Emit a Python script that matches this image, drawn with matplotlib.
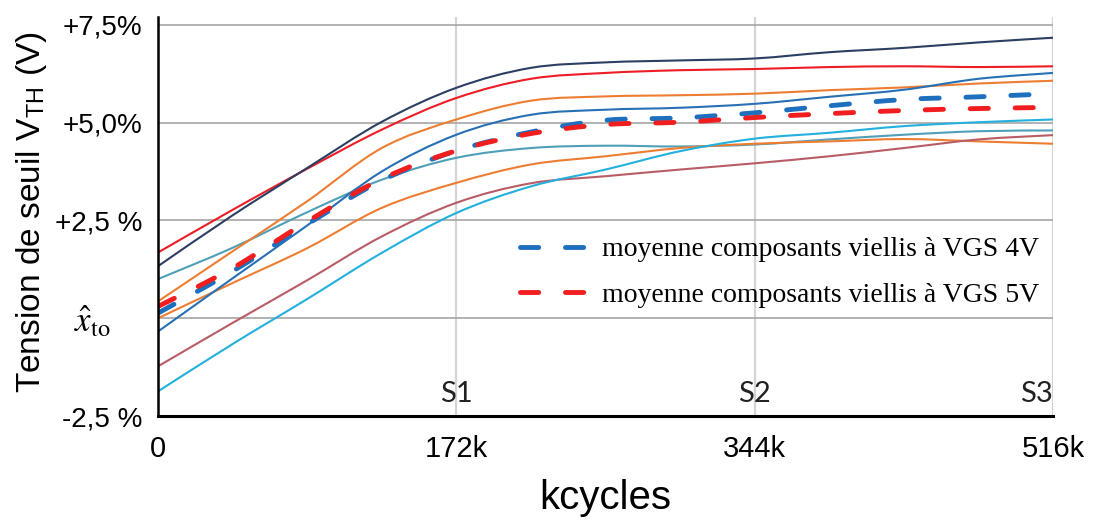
import matplotlib
matplotlib.use("Agg")
import matplotlib.pyplot as plt
from matplotlib.path import Path
from matplotlib.patches import PathPatch
from matplotlib.lines import Line2D
import numpy as np

plt.rcParams['mathtext.fontset'] = 'stix'

# kcycles (lus tous les 43k)
kcycles = [0, 43, 86, 129, 172, 215, 258, 301, 344, 387, 430, 473, 516]

# composants individuels (%)
c_navy = [1.33, 2.63, 3.84, 5.02, 5.89, 6.40, 6.54, 6.59, 6.64, 6.80, 6.91, 7.05, 7.17]
c_red = [1.68, 2.77, 3.82, 4.82, 5.63, 6.12, 6.27, 6.34, 6.37, 6.42, 6.44, 6.42, 6.44]
c_orange1 = [0.43, 1.71, 2.99, 4.35, 5.08, 5.56, 5.67, 5.70, 5.74, 5.83, 5.90, 6.00, 6.07]
c_blue = [-0.34, 1.02, 2.37, 3.75, 4.69, 5.20, 5.33, 5.38, 5.48, 5.66, 5.84, 6.12, 6.27]
c_teal = [1.00, 1.80, 2.71, 3.54, 4.10, 4.35, 4.41, 4.39, 4.44, 4.57, 4.69, 4.78, 4.80]
c_orange2 = [0.00, 0.90, 1.79, 2.82, 3.46, 3.93, 4.14, 4.35, 4.46, 4.52, 4.58, 4.52, 4.46]
c_brown = [-1.23, -0.12, 0.97, 2.09, 2.95, 3.45, 3.63, 3.80, 3.96, 4.14, 4.35, 4.57, 4.68]
c_cyan = [-1.87, -0.66, 0.49, 1.67, 2.69, 3.37, 3.80, 4.27, 4.59, 4.74, 4.91, 5.01, 5.08]

# moyennes
moy_4v = [0.13, 1.20, 2.40, 3.52, 4.28, 4.76, 5.06, 5.12, 5.25, 5.43, 5.59, 5.66, 5.74]
moy_5v = [0.30, 1.28, 2.47, 3.56, 4.28, 4.72, 4.95, 5.01, 5.13, 5.23, 5.31, 5.36, 5.39]
legend_labels = ["moyenne composants viellis à VGS 4V",
                 "moyenne composants viellis à VGS 5V"]

x_ticks = [0, 172, 344, 516]
x_ticklabels = ["0", "172k", "344k", "516k"]
y_ticks = [-2.5, 0, 2.5, 5.0, 7.5]
y_ticklabels = ["-2,5 %", "$\\hat{x}_{\\mathrm{to}}$    ", "+2,5 %", "+5,0%", "+7,5%"]
stage_k = [172, 344, 516]
stage_labels = ["S1", "S2", "S3"]

solid_series = [
    (c_teal, "#4F9FB8"),
    (c_orange2, "#ED7D31"),
    (c_brown, "#B85C66"),
    (c_cyan, "#22B0DC"),
    (c_orange1, "#ED7D31"),
    (c_blue, "#2870B4"),
    (c_red, "#EE1C25"),
    (c_navy, "#2B3F62"),
]

C_MOY4 = "#1F6FBF"
C_MOY5 = "#F01E1E"
DASH_LW = 3.5
DASHES = (3.75, 5.5)


def smooth_path(xs, ys):
    """courbe lissee (type Excel) : Catmull-Rom -> Bezier cubique"""
    pts = np.column_stack([xs, ys]).astype(float)
    ext = np.vstack([pts[0], pts, pts[-1]])
    verts = [pts[0]]
    codes = [Path.MOVETO]
    for i in range(len(pts) - 1):
        p0, p1, p2, p3 = ext[i], ext[i + 1], ext[i + 2], ext[i + 3]
        verts += [p1 + (p2 - p0) / 6.0, p2 - (p3 - p1) / 6.0, p2]
        codes += [Path.CURVE4] * 3
    return Path(verts, codes)


def add_curve(ax, ys, color, lw, dashed=False, z=3):
    patch = PathPatch(smooth_path(kcycles, ys), fill=False, edgecolor=color,
                      linewidth=lw, zorder=z, capstyle='round', joinstyle='round')
    if dashed:
        patch.set_linestyle((0, DASHES))
    ax.add_patch(patch)


fig = plt.figure(figsize=(10.99, 5.21), dpi=100)
ax = fig.add_axes([158 / 1099, 1 - 416 / 521, 895 / 1099, 399 / 521])

for ys, col in solid_series:
    add_curve(ax, ys, col, 1.5)
add_curve(ax, moy_4v, C_MOY4, DASH_LW, dashed=True, z=4)
add_curve(ax, moy_5v, C_MOY5, DASH_LW, dashed=True, z=5)

ax.set_xlim(0, 516)
ax.set_ylim(-2.5, 7.7)

ax.set_xticks(x_ticks)
ax.set_xticklabels(x_ticklabels, family='Liberation Sans', fontsize=21)
ax.set_yticks(y_ticks)
ax.set_yticklabels(y_ticklabels, family='Liberation Sans', fontsize=20)
ax.get_yticklabels()[1].set_fontsize(25)
ax.tick_params(axis='both', length=0)
ax.tick_params(axis='x', pad=14)
ax.tick_params(axis='y', pad=11)

ax.set_axisbelow(True)
ax.xaxis.grid(True, color="#D4D4D4", linewidth=1.6)
ax.yaxis.grid(True, color="#A6A6A6", linewidth=1.2)

for s in ['top', 'right']:
    ax.spines[s].set_visible(False)
ax.spines['left'].set_linewidth(1.8)
ax.spines['bottom'].set_linewidth(2.2)
ax.spines['left'].set_zorder(6)
ax.spines['bottom'].set_zorder(6)

for k, lab in zip(stage_k, stage_labels):
    ax.text(k, -1.95, lab, ha='right' if k == 516 else 'center', va='center',
            family='Lato', fontsize=21, color="#222222")

ax.set_xlabel("kcycles", family='Liberation Sans', fontsize=29, labelpad=11)
ax.set_ylabel("Tension de seuil V$_\\mathregular{TH}$ (V)", family='Liberation Sans',
              fontsize=24)
ax.yaxis.set_label_coords(-0.122, 0.51)

handles = [Line2D([], [], color=C_MOY4, lw=DASH_LW, dashes=DASHES, dash_capstyle='round'),
           Line2D([], [], color=C_MOY5, lw=DASH_LW, dashes=DASHES, dash_capstyle='round')]
ax.legend(handles, legend_labels, loc='center left', bbox_to_anchor=(0.4045, 0.36),
          frameon=False, borderpad=0, borderaxespad=0, handlelength=2.35,
          handletextpad=0.6, labelspacing=0.72,
          prop={'family': 'Liberation Serif', 'size': 20})

fig.savefig("out.png", dpi=100)
